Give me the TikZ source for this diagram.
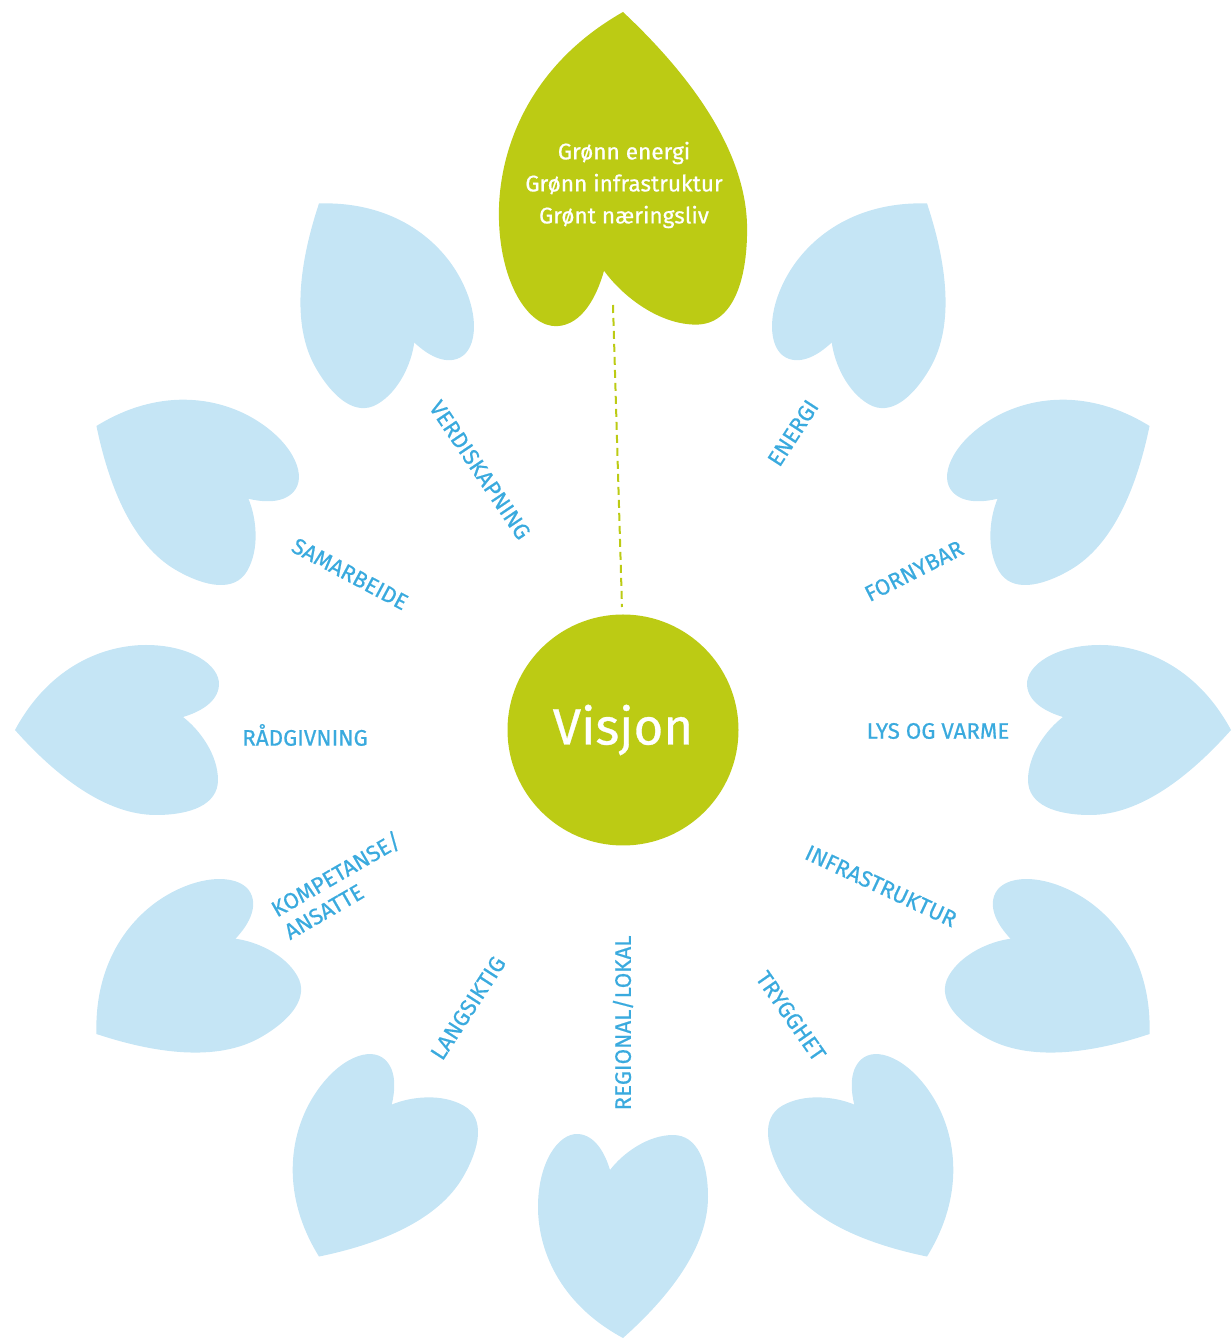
\documentclass[tikz,border=0pt]{standalone}
\usepackage{fontspec}
\setmainfont{Fira Sans}
\newfontfamily\lblfont[FakeBold=0.6]{Fira Sans}
\definecolor{leafgreen}{RGB}{188,203,20}
\definecolor{petalblue}{RGB}{197,229,245}
\definecolor{labelblue}{RGB}{58,170,222}
\tikzset{
  petal/.pic={
    \fill[pic actions] (0,0) .. controls (-35,65) and (-90,85) .. (-131,85)
      .. controls (-175,85) and (-205,65) .. (-204,45)
      .. controls (-203,28) and (-185,18) .. (-168,13)
      .. controls (-185,0) and (-203,-25) .. (-203,-50)
      .. controls (-203,-75) and (-175,-85) .. (-141,-85)
      .. controls (-90,-85) and (-40,-45) .. (0,0) -- cycle;
  },
  lbl/.style={text=labelblue, font=\lblfont\fontsize{11.2}{13}\selectfont, inner sep=0pt},
  bluepetal/.style={fill=petalblue},
}
\begin{document}
\begin{tikzpicture}[x=0.5pt,y=0.5pt]
\useasboundingbox (-623,-612) rectangle (608,730);
% right-side petals
\foreach \a/\n in {60/pA,30/pB,0/pC,-30/pD,-60/pE}{
  \pic[bluepetal, rotate=\a] (\n) at (\a:608) {petal};
}
% left-side petals (mirror images)
\foreach \a/\n in {120/qA,150/qB,180/qC,210/qD,240/qE,270/qF}{
  \pic[bluepetal, rotate=\a, yscale=-1] (\n) at (\a:608) {petal};
}
% green top petal
\pic[fill=leafgreen, rotate=90, xscale=1.54, yscale=1.46] (top) at (90:718) {petal};
\node[text=white, align=center, inner sep=0pt, font=\lblfont\fontsize{11.3}{16}\selectfont] (toptext) at (1,545) {Grønn energi\\Grønn infrastruktur\\Grønt næringsliv};
% dashed connector
\coordinate (dashtop) at (-10,425);
\coordinate (dashbot) at (-1,123);
\draw[leafgreen, line width=1pt, dash pattern=on 4pt off 2.5pt] (dashtop) -- (dashbot);
% center
\node[circle, fill=leafgreen, minimum size=115.5pt, inner sep=0pt, text=white, font=\lblfont\fontsize{25.5}{29}\selectfont] (vision) at (0,0) {Visjon};
% labels
\node[lbl, rotate=-56] (l1) at (-143,260) {VERDISKAPNING};
\node[lbl, rotate=57] (l2) at (170,297) {ENERGI};
\node[lbl, rotate=27] (l3) at (291,159) {FORNYBAR};
\node[lbl, rotate=-28] (l4) at (-273,156) {SAMARBEIDE};
\node[lbl] (l5) at (-318,-5) {RÅDGIVNING};
\node[lbl] (l6) at (315,-1) {LYS OG VARME};
\node[lbl, rotate=30, align=left] (l7) at (-281,-155) {KOMPETANSE/\\ANSATTE};
\node[lbl, rotate=-25] (l8) at (258,-156) {INFRASTRUKTUR};
\node[lbl, rotate=57] (l9) at (-155,-278) {LANGSIKTIG};
\node[lbl, rotate=90] (l10) at (0,-293) {REGIONAL/LOKAL};
\node[lbl, rotate=-55] (l11) at (168,-286) {TRYGGHET};
\end{tikzpicture}
\end{document}
